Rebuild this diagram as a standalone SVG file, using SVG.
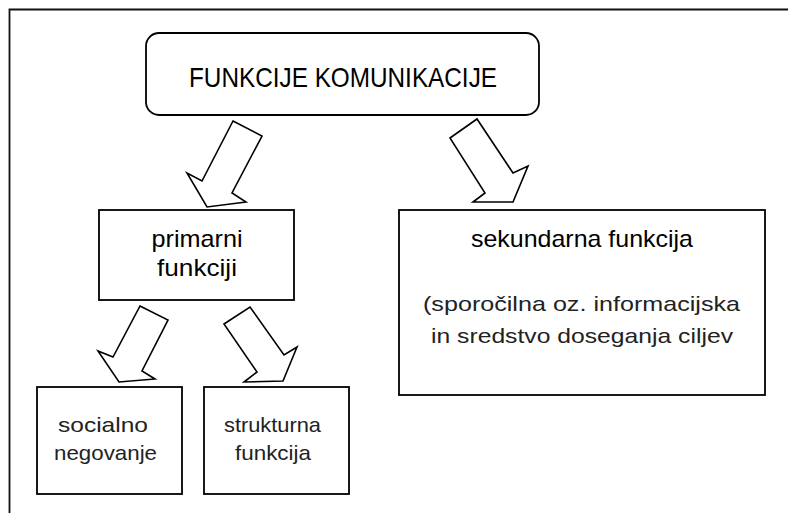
<svg xmlns="http://www.w3.org/2000/svg" width="788" height="513" viewBox="0 0 788 513">
<style>
.box{fill:#fff;stroke:#000;stroke-width:1.8}
.arrow{fill:#fff;stroke:#000;stroke-width:1.6;stroke-linejoin:miter}
.frame{fill:none;stroke:#111;stroke-width:1.8}
text{font-family:"Liberation Sans","DejaVu Sans",sans-serif;text-anchor:middle;fill:#000}
.t1{font-size:28px}
.t2{font-size:24px}
.t3{font-size:21px;fill:#222}
</style>
<rect width="788" height="513" fill="#fff"/>
<path class="frame" d="M9.5 513 V9.5 H788"/>
<g id="connectors">
<polygon class="arrow" points="233,121 262,136 232,193 246,202 207,207 187,173 202,181"/>
<polygon class="arrow" points="450,138 477,119 513,173 528,166 513,202 473,202 485,193"/>
<polygon class="arrow" points="140,306 168,320 142,371 155,379 119,382 98,351 113,357"/>
<polygon class="arrow" points="224,324 250,307 284,355 297,347 283,381 244,382 257,372"/>
</g>
<g id="root">
<rect class="box" x="146" y="33" width="393" height="82" rx="13"/>
<text class="t1" x="343" y="87" textLength="308" lengthAdjust="spacingAndGlyphs">FUNKCIJE KOMUNIKACIJE</text>
</g>
<g id="primarni">
<rect class="box" x="99" y="210" width="195" height="90"/>
<text class="t2" x="197" y="246.5" textLength="91" lengthAdjust="spacingAndGlyphs">primarni</text>
<text class="t2" x="197" y="275.5" textLength="80" lengthAdjust="spacingAndGlyphs">funkciji</text>
</g>
<g id="sekundarna">
<rect class="box" x="399" y="210" width="366" height="185"/>
<text class="t2" x="582" y="247" textLength="222" lengthAdjust="spacingAndGlyphs">sekundarna funkcija</text>
<text class="t3" x="581.5" y="311" textLength="317" lengthAdjust="spacingAndGlyphs">(sporočilna oz. informacijska</text>
<text class="t3" x="582" y="343" textLength="302" lengthAdjust="spacingAndGlyphs">in sredstvo doseganja ciljev</text>
</g>
<g id="socialno">
<rect class="box" x="37" y="387" width="145" height="107"/>
<text class="t3" x="103" y="432" textLength="90" lengthAdjust="spacingAndGlyphs">socialno</text>
<text class="t3" x="105.5" y="460" textLength="103" lengthAdjust="spacingAndGlyphs">negovanje</text>
</g>
<g id="strukturna">
<rect class="box" x="204" y="387" width="145" height="107"/>
<text class="t3" x="272.5" y="432" textLength="97" lengthAdjust="spacingAndGlyphs">strukturna</text>
<text class="t3" x="273" y="460" textLength="76" lengthAdjust="spacingAndGlyphs">funkcija</text>
</g>
</svg>
